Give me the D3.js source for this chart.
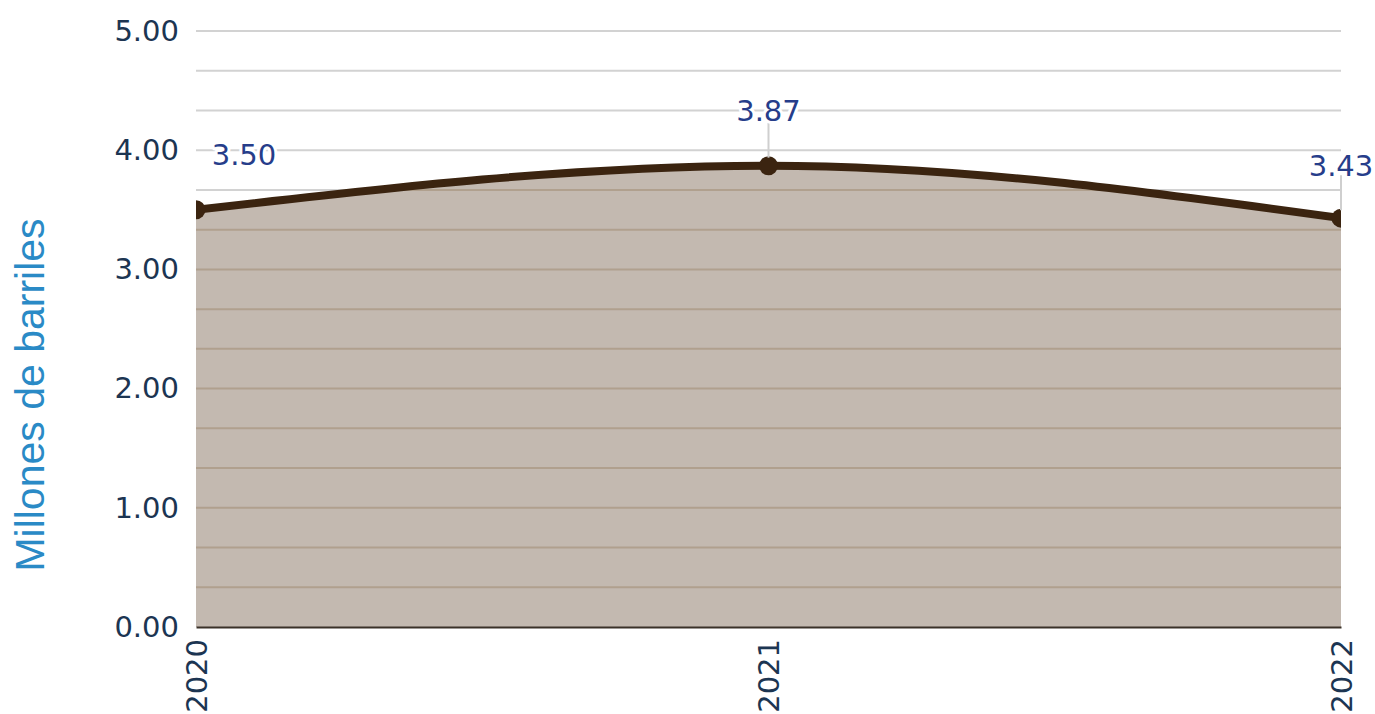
<!DOCTYPE html>
<html lang="es">
  <head>
    <meta charset="utf-8">
    <style type="text/css">
      body { margin: 0; background: #fff; }
      svg { display: block; }
      .tick text { font-family: "DejaVu Sans", Verdana, sans-serif; fill: #1c3552; }
    </style>
  </head>
  <body>
    <script src="https://cdn.jsdelivr.net/npm/d3@7/dist/d3.min.js"></script>
    <svg id="chart"></svg>
    <script type="text/javascript">
var years = ["2020", "2021", "2022"];
var values = [3.50, 3.87, 3.43];
var yTicks = [0, 1, 2, 3, 4, 5];

var width = 1375, height = 714;
var margin = { top: 31, right: 34, bottom: 87, left: 196 };
var w = width - margin.left - margin.right;
var h = height - margin.top - margin.bottom;

var svg = d3.select("#chart")
  .attr("width", width)
  .attr("height", height)
  .append("g")
  .attr("transform", "translate(" + margin.left + "," + margin.top + ")");

var x = d3.scalePoint().domain(years).range([0, w]);
var y = d3.scaleLinear().domain([0, 5]).range([h, 0]);

var data = years.map(function(d, i) { return { year: d, value: values[i] }; });

// minor grid every third of a unit
var grid = d3.range(0, 15).map(function(i) { return (i + 1) / 3; });

var area = d3.area()
  .x(function(d) { return x(d.year); })
  .y0(h)
  .y1(function(d) { return y(d.value); })
  .curve(d3.curveMonotoneX);

var line = d3.line()
  .x(function(d) { return x(d.year); })
  .y(function(d) { return y(d.value); })
  .curve(d3.curveMonotoneX);

svg.append("clipPath").attr("id", "plot")
  .append("rect").attr("width", w).attr("height", h + 10).attr("y", -5);

svg.append("clipPath").attr("id", "under")
  .append("path").datum(data).attr("d", area);

svg.append("g").selectAll("line").data(grid).enter()
  .append("line")
  .attr("x1", 0).attr("x2", w)
  .attr("y1", function(d) { return y(d); })
  .attr("y2", function(d) { return y(d); })
  .style("stroke", "#d2d2d2")
  .style("stroke-width", 2);

svg.append("path").datum(data)
  .attr("d", area)
  .style("fill", "#c3b9b0");

svg.append("g").attr("clip-path", "url(#under)")
  .selectAll("line").data(grid).enter()
  .append("line")
  .attr("x1", 0).attr("x2", w)
  .attr("y1", function(d) { return y(d); })
  .attr("y2", function(d) { return y(d); })
  .style("stroke", "#b0a08e")
  .style("stroke-width", 2);

// axes
var yAxis = d3.axisLeft(y).tickValues(yTicks).tickSize(0).tickPadding(17)
  .tickFormat(d3.format(".2f"));
var yg = svg.append("g").call(yAxis);
yg.select(".domain").remove();
yg.selectAll(".tick text").style("font-size", "29px");

var xg = svg.append("g")
  .attr("transform", "translate(0," + h + ")")
  .call(d3.axisBottom(x).tickSize(0));
xg.select(".domain").style("stroke", "#3a3128").style("stroke-width", 2);
xg.selectAll(".tick text")
  .style("font-size", "29px")
  .attr("transform", "rotate(-90)")
  .attr("text-anchor", "end")
  .attr("x", -12)
  .attr("y", 0)
  .attr("dy", "0.35em");

// line + markers, clipped at plot edges
var plot = svg.append("g").attr("clip-path", "url(#plot)");
plot.append("path").datum(data)
  .attr("d", line)
  .style("fill", "none")
  .style("stroke", "#3b2410")
  .style("stroke-width", 8);
plot.selectAll("circle").data(data).enter()
  .append("circle")
  .attr("cx", function(d) { return x(d.year); })
  .attr("cy", function(d) { return y(d.value); })
  .attr("r", 9.5)
  .style("fill", "#3b2410");

// value labels
var labelPos = [
  { dx: 48, dy: -55, leader: false },
  { dx: 0, dy: -55, leader: true },
  { dx: 0, dy: -52, leader: true }
];
var labels = svg.append("g").selectAll("g").data(data).enter().append("g");
labels.filter(function(d, i) { return labelPos[i].leader; })
  .append("line")
  .attr("x1", function(d) { return x(d.year); })
  .attr("x2", function(d) { return x(d.year); })
  .attr("y1", function(d, i) { return y(d.value) + labelPos[i].dy + 12; })
  .attr("y2", function(d) { return y(d.value) - 8; })
  .style("stroke", "#cfcfcf")
  .style("stroke-width", 2);
labels.append("text")
  .attr("x", function(d, i) { return x(d.year) + labelPos[i].dx; })
  .attr("y", function(d, i) { return y(d.value) + labelPos[i].dy; })
  .attr("text-anchor", "middle")
  .attr("dy", "0.35em")
  .style("font-family", "\"DejaVu Sans\", Verdana, sans-serif")
  .style("font-size", "29px")
  .style("fill", "#263d8a")
  .style("stroke", "#fff")
  .style("stroke-width", 6)
  .style("stroke-linejoin", "round")
  .style("paint-order", "stroke")
  .text(function(d) { return d3.format(".2f")(d.value); });

// y title
svg.append("text")
  .attr("transform", "translate(" + (30 - margin.left) + "," + (395 - margin.top) + ") rotate(-90)")
  .attr("text-anchor", "middle")
  .attr("dy", "0.35em")
  .style("font-family", "\"Liberation Sans\", Arial, sans-serif")
  .style("font-size", "41px")
  .style("fill", "#2a8ac6")
  .text("Millones de barriles");
    </script>
  </body>
</html>
